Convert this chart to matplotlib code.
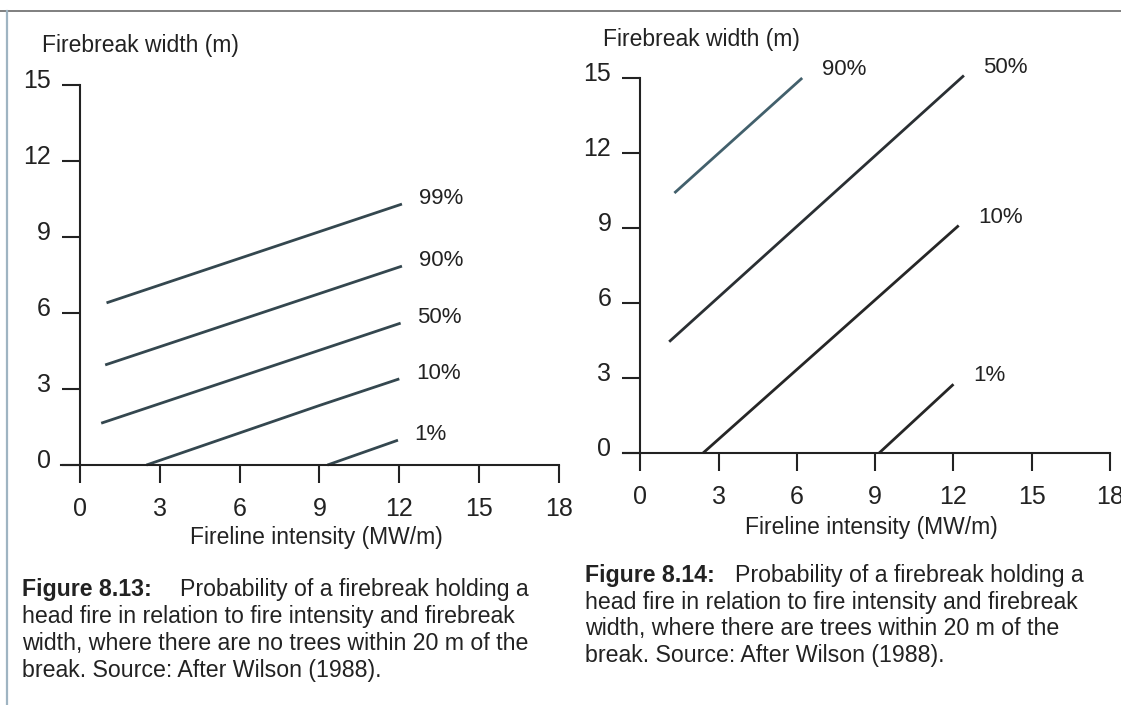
import matplotlib
matplotlib.use("Agg")
import matplotlib.pyplot as plt
import matplotlib.transforms as mtransforms
from matplotlib.lines import Line2D

# Figure 8.13: no trees within 20 m of the break
left_labels = ["99%", "90%", "50%", "10%", "1%"]
left_x = [[1.0, 12.1], [0.95, 12.1], [0.8, 12.05], [2.5, 9.0, 12.0], [9.3, 11.95]]
left_y = [[6.4, 10.3], [3.95, 7.85], [1.65, 5.6], [0.0, 2.35, 3.4], [0.0, 0.98]]

# Figure 8.14: trees within 20 m of the break
right_labels = ["90%", "50%", "10%", "1%"]
right_x = [[1.3, 6.2], [1.1, 12.4], [2.4, 12.2], [9.15, 12.0]]
right_y = [[10.4, 15.0], [4.45, 15.1], [0.0, 9.1], [0.0, 2.75]]

x_ticks = [0, 3, 6, 9, 12, 15, 18]
y_ticks = [0, 3, 6, 9, 12, 15]

left_caption = ["Figure 8.13:", "Probability of a firebreak holding a",
                "head fire in relation to fire intensity and firebreak",
                "width, where there are no trees within 20 m of the",
                "break. Source: After Wilson (1988)."]
right_caption = ["Figure 8.14:", "Probability of a firebreak holding a",
                 "head fire in relation to fire intensity and firebreak",
                 "width, where there are trees within 20 m of the",
                 "break. Source: After Wilson (1988)."]

W, H = 1121, 705
NARROW = ["Liberation Sans Narrow", "Liberation Sans", "DejaVu Sans"]
REGULAR = ["Liberation Sans", "DejaVu Sans"]
INK = "#222222"

plt.rcParams["font.family"] = NARROW
fig = plt.figure(figsize=(W / 100, H / 100), dpi=100)
fig.patch.set_facecolor("white")


def px_box(left, right, bottom, top):
    """axes rectangle from pixel edges (y measured from the top)"""
    return [left / W, 1 - bottom / H, (right - left) / W, (bottom - top) / H]


def setup_axes(ax, xmin):
    ax.set_xlim(xmin, 18)
    ax.set_ylim(0, 15)
    ax.patch.set_alpha(0)
    for s in ["top", "right"]:
        ax.spines[s].set_visible(False)
    ax.spines["left"].set_position(("data", 0))
    for s in ["left", "bottom"]:
        ax.spines[s].set_linewidth(1.5)
        ax.spines[s].set_color(INK)
    ax.set_xticks(x_ticks)
    ax.set_yticks(y_ticks)
    ax.tick_params(axis="x", direction="out", length=13, width=1.5, pad=10,
                   labelsize=18, colors=INK)
    ax.tick_params(axis="y", direction="out", length=13, width=1.5, pad=8,
                   labelsize=18, colors=INK)
    # numbers sit a little above their tick marks
    shift = mtransforms.ScaledTranslation(0, 5 / 72, fig.dpi_scale_trans)
    for lbl in ax.get_yticklabels():
        lbl.set_transform(lbl.get_transform() + shift)
    ax.set_xlabel("Fireline intensity (MW/m)", fontsize=16.5, color=INK, va="top")
    ax.set_ylabel("Firebreak width (m)", fontsize=16.5, color=INK, rotation=0,
                  ha="left", va="baseline")


def draw_lines(ax, xs, ys, labels, colors, offset):
    for x, y, lab, c in zip(xs, ys, labels, colors):
        ax.plot(x, y, color=c, lw=2.0, solid_capstyle="butt", clip_on=False)
        ax.annotate(lab, xy=(x[-1], y[-1]), xytext=offset, textcoords="offset points",
                    ha="left", va="center", fontsize=16, color=INK, annotation_clip=False)


# left chart
ax1 = fig.add_axes(px_box(61, 559, 465, 85))
setup_axes(ax1, -0.71)
draw_lines(ax1, left_x, left_y, left_labels, ["#34474f"] * 5, (12, 4))
ax1.xaxis.set_label_coords(0.512, -0.16)
ax1.yaxis.set_label_coords(-0.038, 1.087)

# right chart
ax2 = fig.add_axes(px_box(623, 1110, 453, 78))
setup_axes(ax2, -0.67)
draw_lines(ax2, right_x, right_y, right_labels,
           ["#42606c", "#2a2f33", "#262626", "#262626"], (14, 6))
ax2.xaxis.set_label_coords(0.511, -0.168)
ax2.yaxis.set_label_coords(-0.041, 1.085)


def caption(lines, x0, x1, y0, step):
    fig.text(x0 / W, 1 - y0 / H, lines[0], family=REGULAR, weight="bold",
             fontsize=16.7, color=INK, va="baseline")
    fig.text(x1 / W, 1 - y0 / H, lines[1], family=REGULAR, fontsize=16.7,
             color=INK, va="baseline")
    for i, line in enumerate(lines[2:], start=1):
        fig.text(x0 / W, 1 - (y0 + i * step) / H, line, family=REGULAR,
                 fontsize=16.7, color=INK, va="baseline")


caption(left_caption, 22, 180, 596, 27)
caption(right_caption, 585, 735, 582, 26.7)

# edges of the scanned page
fig.add_artist(Line2D([0, 1], [1 - 11 / H, 1 - 11 / H], transform=fig.transFigure,
                      color="#6a6a6a", lw=1.2))
fig.add_artist(Line2D([7 / W, 7 / W], [0, 1 - 11 / H], transform=fig.transFigure,
                      color="#9fb4c2", lw=1.6))

fig.savefig("out.png", dpi=100, facecolor="white")
